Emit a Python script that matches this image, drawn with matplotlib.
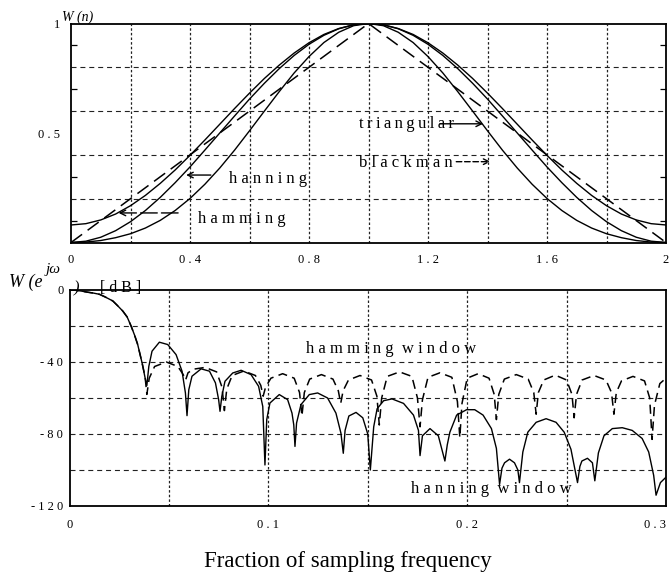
import matplotlib
matplotlib.use("Agg")
import matplotlib.pyplot as plt

# ---------------- data ----------------
# top panel: window shapes W(n), n from 0 to 2
n_pos = [0.00, 0.05, 0.10, 0.15, 0.20, 0.25, 0.30, 0.35, 0.40, 0.45, 0.50,
         0.55, 0.60, 0.65, 0.70, 0.75, 0.80, 0.85, 0.90, 0.95, 1.00,
         1.05, 1.10, 1.15, 1.20, 1.25, 1.30, 1.35, 1.40, 1.45, 1.50,
         1.55, 1.60, 1.65, 1.70, 1.75, 1.80, 1.85, 1.90, 1.95, 2.00]
hamming_w = [0.080, 0.086, 0.103, 0.130, 0.168, 0.215, 0.270, 0.331, 0.398, 0.468, 0.540,
             0.612, 0.682, 0.749, 0.810, 0.865, 0.912, 0.950, 0.977, 0.994, 1.000,
             0.994, 0.977, 0.950, 0.912, 0.865, 0.810, 0.749, 0.682, 0.612, 0.540,
             0.468, 0.398, 0.331, 0.270, 0.215, 0.168, 0.130, 0.103, 0.086, 0.080]
hanning_w = [0.000, 0.006, 0.024, 0.054, 0.095, 0.146, 0.206, 0.273, 0.345, 0.422, 0.500,
             0.578, 0.655, 0.727, 0.794, 0.854, 0.905, 0.946, 0.976, 0.994, 1.000,
             0.994, 0.976, 0.946, 0.905, 0.854, 0.794, 0.727, 0.655, 0.578, 0.500,
             0.422, 0.345, 0.273, 0.206, 0.146, 0.095, 0.054, 0.024, 0.006, 0.000]
blackman_w = [0.000, 0.002, 0.009, 0.022, 0.040, 0.066, 0.101, 0.146, 0.201, 0.266, 0.340,
              0.422, 0.510, 0.600, 0.689, 0.774, 0.849, 0.913, 0.960, 0.990, 1.000,
              0.990, 0.960, 0.913, 0.849, 0.774, 0.689, 0.600, 0.510, 0.422, 0.340,
              0.266, 0.201, 0.146, 0.101, 0.066, 0.040, 0.022, 0.009, 0.002, 0.000]
tri_pos = [0.0, 1.0, 2.0]
triangular_w = [0.0, 1.0, 0.0]

top_xticks = [0.0, 0.4, 0.8, 1.2, 1.6, 2.0]
top_xlabels = ["0", "0 . 4", "0 . 8", "1 . 2", "1 . 6", "2"]
top_yticks = [0.5, 1.0]
top_ylabels = ["0 . 5", "1"]

# bottom panel: magnitude response in dB vs fraction of sampling frequency
hanning_f = [0.0, 0.003, 0.006, 0.009, 0.012, 0.0151, 0.018, 0.0218, 0.024, 0.0268,
             0.029, 0.0310, 0.0327, 0.0343, 0.0365, 0.0382, 0.0389,
             0.0399, 0.0415, 0.0452, 0.0494, 0.0536, 0.0566, 0.0583, 0.0591,
             0.0600, 0.0616, 0.0662, 0.0704, 0.0734, 0.0750, 0.0757,
             0.0766, 0.0782, 0.0821, 0.0863, 0.0913, 0.0951, 0.0972, 0.0983,
             0.0992, 0.1008, 0.1055, 0.1097, 0.1119, 0.1128, 0.1134,
             0.1142, 0.1164, 0.1206, 0.1248, 0.1298, 0.1340, 0.1365, 0.1377,
             0.1386, 0.1405, 0.1441, 0.1475, 0.1500, 0.1513,
             0.1530, 0.1547, 0.1580, 0.1622, 0.1680, 0.1730, 0.1755, 0.1763,
             0.1775, 0.1813, 0.1855, 0.1888,
             0.1900, 0.1913, 0.1947, 0.1997, 0.2038, 0.2080, 0.2122, 0.2147, 0.2163,
             0.2175, 0.2188, 0.2213, 0.2238, 0.2255, 0.2263,
             0.2280, 0.2305, 0.2347, 0.2397, 0.2447, 0.2488, 0.2522, 0.2555,
             0.2567, 0.2577, 0.2605, 0.2630, 0.2642,
             0.2660, 0.2688, 0.2730, 0.2780, 0.2830, 0.2880, 0.2913, 0.2938, 0.2950,
             0.2972, 0.3000]
hanning_db = [0.0, -0.15, -0.6, -1.2, -1.7, -2.4, -3.9, -6.1, -8.5, -11.7,
              -15.0, -20.1, -25.0, -30.3, -40.5, -49.8, -53.1,
              -42.4, -34.0, -29.0, -30.3, -35.9, -45.1, -57.2, -69.8,
              -55.4, -47.9, -43.8, -45.1, -51.6, -60.9, -67.4,
              -59.1, -50.7, -46.1, -44.6, -47.0, -53.5, -64.7, -97.2,
              -72.0, -62.8, -58.1, -60.9, -68.4, -75.0, -86.9,
              -73.9, -63.7, -58.1, -57.2, -60.0, -68.4, -79.5, -90.7,
              -78.0, -70.0, -68.0, -71.0, -80.0, -100.0,
              -76.0, -66.0, -61.5, -60.5, -63.0, -69.5, -78.0, -92.0,
              -81.0, -77.0, -81.0, -95.0,
              -86.0, -79.0, -69.5, -66.5, -66.5, -69.5, -77.0, -88.0, -108.0,
              -99.0, -96.0, -94.0, -96.0, -100.0, -107.0,
              -90.0, -79.0, -73.5, -71.5, -73.5, -79.0, -88.5, -107.0,
              -98.0, -95.0, -93.5, -96.0, -106.0,
              -90.5, -81.0, -77.0, -76.5, -78.0, -82.5, -90.0, -103.0, -114.0,
              -107.0, -104.0]

hamming_f = [0.0, 0.003, 0.006, 0.009, 0.012, 0.0151, 0.018, 0.0218, 0.024, 0.0268,
             0.029, 0.0310, 0.0327, 0.0343, 0.0365, 0.0380, 0.0389,
             0.0401, 0.0428, 0.0487, 0.0545, 0.0572, 0.0584,
             0.0596, 0.0623, 0.0682, 0.0740, 0.0767, 0.0779,
             0.0791, 0.0818, 0.0877, 0.0935, 0.0962, 0.0974,
             0.0986, 0.1013, 0.1072, 0.1130, 0.1157, 0.1169,
             0.1181, 0.1208, 0.1267, 0.1325, 0.1352, 0.1364,
             0.1376, 0.1403, 0.1461, 0.1519, 0.1546, 0.1558,
             0.1570, 0.1598, 0.1660, 0.1722, 0.1750, 0.1763,
             0.1775, 0.1803, 0.1863, 0.1923, 0.1951, 0.1963,
             0.1974, 0.2000, 0.2055, 0.2110, 0.2136, 0.2147,
             0.2159, 0.2187, 0.2247, 0.2307, 0.2335, 0.2347,
             0.2358, 0.2385, 0.2443, 0.2500, 0.2527, 0.2538,
             0.2550, 0.2578, 0.2638, 0.2698, 0.2726, 0.2738,
             0.2750, 0.2776, 0.2834, 0.2892, 0.2918, 0.2930,
             0.2942, 0.2969, 0.3000]
hamming_db = [0.0, -0.15, -0.6, -1.2, -1.7, -2.4, -3.9, -6.1, -8.5, -11.7,
              -15.0, -20.1, -25.0, -30.3, -40.5, -48.0, -58.0,
              -49.0, -42.5, -40.0, -42.5, -47.0, -50.0,
              -46.0, -44.0, -43.0, -45.5, -54.0, -67.0,
              -55.0, -47.5, -45.0, -47.5, -53.0, -59.0,
              -54.0, -49.0, -46.5, -49.0, -57.0, -70.0,
              -57.0, -49.5, -47.0, -49.5, -56.0, -63.0,
              -56.0, -50.0, -47.5, -50.0, -59.0, -75.0,
              -60.0, -48.0, -45.5, -48.0, -60.0, -76.0,
              -61.0, -48.5, -46.0, -48.5, -62.0, -82.0,
              -63.0, -49.0, -46.5, -49.0, -58.0, -72.0,
              -58.0, -49.5, -47.0, -49.5, -57.0, -69.0,
              -57.0, -50.0, -47.3, -50.0, -58.0, -71.0,
              -58.0, -50.0, -47.5, -50.0, -57.0, -69.0,
              -57.0, -50.5, -48.0, -50.5, -60.0, -83.0,
              -64.0, -52.0, -49.0]

bot_xticks = [0.0, 0.1, 0.2, 0.3]
bot_xlabels = ["0", "0 . 1", "0 . 2", "0 . 3"]
bot_yticks = [0, -40, -80, -120]
bot_ylabels = ["0", "- 4 0", "- 8 0", "- 1 2 0"]

# ---------------- figure ----------------
W, H = 671, 583
SERIF = ["Liberation Serif", "DejaVu Serif"]
plt.rcParams["font.family"] = SERIF

fig = plt.figure(figsize=(W / 100, H / 100), dpi=100)
fig.patch.set_facecolor("white")


def fx(px):
    return px / W


def fy(py):
    return 1 - py / H


VGRID = dict(color="#222222", lw=0.9, ls=(0, (2.0, 1.7)), zorder=1)
HGRID = dict(color="#222222", lw=0.8, ls=(0, (4.5, 3.5)), zorder=1)
TICKFONT = 9

# ---- top axes ----
ax1 = fig.add_axes([fx(71), fy(242.5), (666 - 71) / W, (242.5 - 23.5) / H])
ax1.set_xlim(0, 2)
ax1.set_ylim(0, 1)
for g in [0.2, 0.4, 0.6, 0.8, 1.0, 1.2, 1.4, 1.6, 1.8]:
    ax1.axvline(g, **VGRID)
for g in [0.2, 0.4, 0.6, 0.8]:
    ax1.axhline(g, **HGRID)

ax1.plot(n_pos, hamming_w, color="k", lw=1.0, zorder=3)
ax1.plot(n_pos, hanning_w, color="k", lw=1.0, zorder=3)
ax1.plot(n_pos, blackman_w, color="k", lw=1.0, zorder=3)
ax1.plot(tri_pos, triangular_w, color="k", lw=1.1, ls=(0, (9, 4.5)), zorder=3)

ax1.set_xticks(top_xticks)
ax1.set_xticklabels(top_xlabels)
ax1.set_yticks(top_yticks)
ax1.set_yticklabels(top_ylabels)
ax1.set_yticks([0.1, 0.3, 0.5, 0.7, 0.9], minor=True)
ax1.tick_params(axis="both", which="major", length=0, labelsize=TICKFONT)
ax1.tick_params(axis="x", which="major", pad=8)
ax1.tick_params(axis="y", which="major", pad=8)
ax1.tick_params(axis="y", which="minor", direction="in", length=4, width=0.9,
                left=True, right=True)
for s in ax1.spines.values():
    s.set_linewidth(1.3)
    s.set_color("k")

ANN = dict(fontsize=12, color="k", va="center", ha="left", family=SERIF)
ax1.text(0.968, 0.542, "t\u2009r\u2009i\u2009a\u2009n\u2009g\u2009u\u2009l\u2009a\u2009r", **ANN)
ax1.annotate("", xy=(1.385, 0.542), xytext=(1.24, 0.542),
             arrowprops=dict(arrowstyle="->", lw=1.0, color="k", shrinkA=0, shrinkB=0))
ax1.text(0.968, 0.362, "b l a c k m a n", **ANN)
ax1.annotate("", xy=(1.41, 0.369), xytext=(1.295, 0.369),
             arrowprops=dict(arrowstyle="->", lw=1.0, color="k", ls=(0, (4, 2)),
                             shrinkA=0, shrinkB=0))
ax1.text(0.53, 0.292, "h a n n i n g", **ANN)
ax1.annotate("", xy=(0.387, 0.308), xytext=(0.47, 0.308),
             arrowprops=dict(arrowstyle="->", lw=1.0, color="k", shrinkA=0, shrinkB=0))
ax1.text(0.426, 0.108, "h a m m i n g", **ANN)
ax1.annotate("", xy=(0.16, 0.135), xytext=(0.36, 0.135),
             arrowprops=dict(arrowstyle="->", lw=1.0, color="k", ls=(0, (12, 3)),
                             shrinkA=0, shrinkB=0))

fig.text(fx(61.5), fy(20.5), "W (n)", fontsize=10, style="italic",
         va="baseline", ha="left", family=SERIF)

# ---- bottom axes ----
ax2 = fig.add_axes([fx(69.5), fy(506), (666 - 69.5) / W, (506 - 290) / H])
ax2.set_xlim(0, 0.3)
ax2.set_ylim(-120, 0)
for g in [0.05, 0.10, 0.15, 0.20, 0.25]:
    ax2.axvline(g, **VGRID)
for g in [-20, -40, -60, -80, -100]:
    ax2.axhline(g, **HGRID)

ax2.plot(hamming_f, hamming_db, color="k", lw=1.1, ls=(0, (6, 3.5)), zorder=3)
ax2.plot(hanning_f, hanning_db, color="k", lw=1.0, zorder=4)

ax2.set_xticks(bot_xticks)
ax2.set_xticklabels(bot_xlabels)
ax2.set_yticks(bot_yticks)
ax2.set_yticklabels(bot_ylabels)
ax2.tick_params(axis="both", which="major", length=0, labelsize=TICKFONT)
ax2.tick_params(axis="x", which="major", pad=9)
ax2.tick_params(axis="y", which="major", pad=4.5)
ax2.get_xticklabels()[-1].set_horizontalalignment("right")
for s in ax2.spines.values():
    s.set_linewidth(1.3)
    s.set_color("k")

ax2.text(0.119, -32.6, "h a m m i n g  w i n d o w", **ANN)
ax2.text(0.172, -110.8, "h a n n i n g  w i n d o w", **ANN)

# y-axis title of bottom panel: W(e^{jw}) [dB]
fig.text(fx(9), fy(286.5), "W (e", fontsize=13, style="italic",
         va="baseline", ha="left", family=SERIF)
fig.text(fx(46), fy(273), "j\u03c9", fontsize=11, style="italic",
         va="baseline", ha="left", family=SERIF)
fig.text(fx(74), fy(292), ")", fontsize=12, style="italic",
         va="baseline", ha="left", family=SERIF)
fig.text(fx(100), fy(292), "[ d B ]", fontsize=11.5,
         va="baseline", ha="left", family=SERIF)

fig.text(fx(348), fy(567), "Fraction of sampling frequency", fontsize=16.5,
         va="baseline", ha="center", family=SERIF)

fig.savefig("out.png", dpi=100)
